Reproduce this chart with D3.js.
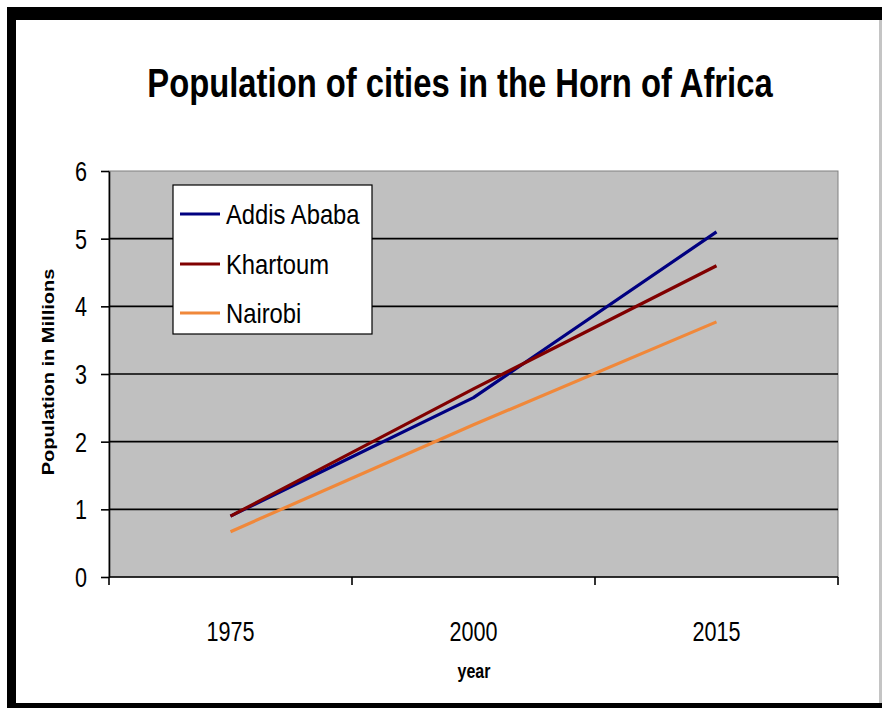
<!DOCTYPE html>
<html>
<head>
<meta charset="utf-8">
<script src="https://cdn.jsdelivr.net/npm/d3@7"></script>
<style>
  html, body { margin: 0; padding: 0; background: #fff; }
  svg { display: block; }
  text { font-family: "Liberation Sans", Arial, sans-serif; fill: #000; }
</style>
</head>
<body>
<svg id="chart" width="882" height="708"></svg>
<script>
// Population (millions) of three cities in the Horn of Africa
const years = ["1975", "2000", "2015"];
const cities = ["Addis Ababa", "Khartoum", "Nairobi"];
const addisAbaba = [0.9, 2.65, 5.1];
const khartoum = [0.9, 2.78, 4.6];
const nairobi = [0.67, 2.25, 3.77];
const yTicks = [0, 1, 2, 3, 4, 5, 6];
const colors = ["#000080", "#800000", "#f0883a"];

const seriesValues = [addisAbaba, khartoum, nairobi];
const series = cities.map((name, i) => ({
  name,
  color: colors[i],
  points: years.map((yr, j) => ({ year: yr, value: seriesValues[i][j] }))
}));

const svg = d3.select("#chart");
const W = 882, H = 708;
const plot = { left: 109, right: 838, top: 171, bottom: 577 };

// page background and frame
svg.append("rect").attr("width", W).attr("height", H).attr("fill", "#fff");
svg.append("rect").attr("x", 7).attr("y", 7).attr("width", W - 7).attr("height", 13).attr("fill", "#000");
svg.append("rect").attr("x", 7).attr("y", 7).attr("width", 9).attr("height", H - 7).attr("fill", "#000");
svg.append("rect").attr("x", 7).attr("y", 703).attr("width", W - 7).attr("height", 5).attr("fill", "#000");
svg.append("rect").attr("x", 879).attr("y", 20).attr("width", 3).attr("height", 683).attr("fill", "#c4c4c4");

// squeezed text helper (narrow face)
function label(g, x, y, str, opts) {
  const sx = opts.sx || 0.8;
  const t = g.append("text")
    .attr("transform", `translate(${x},${y}) scale(${sx},1)` + (opts.rotate ? ` rotate(${opts.rotate})` : ""))
    .attr("font-size", opts.size)
    .attr("font-weight", opts.bold ? "bold" : "normal")
    .attr("text-anchor", opts.anchor || "middle")
    .text(str);
  return t;
}

// title
label(svg, 460, 97, "Population of cities in the Horn of Africa", { size: 40, bold: true, sx: 0.82 });

// scales
const x = d3.scaleBand().domain(years).range([plot.left, plot.right]);
const y = d3.scaleLinear().domain([0, 6]).range([plot.bottom, plot.top]);

// plot area
svg.append("rect")
  .attr("x", plot.left).attr("y", plot.top)
  .attr("width", plot.right - plot.left).attr("height", plot.bottom - plot.top)
  .attr("fill", "#c0c0c0").attr("stroke", "#808080").attr("stroke-width", 1);

// horizontal gridlines
svg.append("g").selectAll("line")
  .data(yTicks.filter(d => d > 0 && d < 6))
  .join("line")
  .attr("x1", plot.left).attr("x2", plot.right)
  .attr("y1", d => y(d)).attr("y2", d => y(d))
  .attr("stroke", "#000").attr("stroke-width", 1.6);

// y axis
const yAxis = svg.append("g")
  .attr("transform", `translate(${plot.left},0)`)
  .call(d3.axisLeft(y).tickValues(yTicks).tickSize(8).tickSizeOuter(0).tickFormat(""));
yAxis.select(".domain").attr("stroke", "#000").attr("stroke-width", 1.6);
yAxis.selectAll(".tick line").attr("stroke", "#000").attr("stroke-width", 1.6);
yTicks.forEach(v => label(svg, 87, y(v) + 10, String(v), { size: 27, anchor: "end" }));

// x axis with ticks on band boundaries
const xAxisG = svg.append("g").attr("transform", `translate(0,${plot.bottom})`);
xAxisG.append("line")
  .attr("x1", plot.left).attr("x2", plot.right)
  .attr("stroke", "#000").attr("stroke-width", 1.6);
const bounds = years.map(d => x(d)).concat([x(years[years.length - 1]) + x.bandwidth()]);
xAxisG.selectAll("line.tk").data(bounds).join("line").attr("class", "tk")
  .attr("x1", d => d).attr("x2", d => d).attr("y1", 0).attr("y2", 8)
  .attr("stroke", "#000").attr("stroke-width", 1.6);
years.forEach(yr => label(svg, x(yr) + x.bandwidth() / 2, 641, yr, { size: 27 }));

// axis titles
label(svg, 474, 678, "year", { size: 20, bold: true });
svg.append("text")
  .attr("transform", "translate(54,372) scale(0.8,1) rotate(-90)")
  .attr("font-size", 20).attr("font-weight", "bold").attr("text-anchor", "middle")
  .text("Population in Millions");

// series lines
const line = d3.line()
  .x(d => x(d.year) + x.bandwidth() / 2)
  .y(d => y(d.value));
svg.append("g").selectAll("path")
  .data(series)
  .join("path")
  .attr("d", d => line(d.points))
  .attr("fill", "none")
  .attr("stroke", d => d.color)
  .attr("stroke-width", 3.2)
  .attr("stroke-linejoin", "round");

// legend
const lg = svg.append("g");
lg.append("rect")
  .attr("x", 173).attr("y", 185).attr("width", 199).attr("height", 149)
  .attr("fill", "#fff").attr("stroke", "#000").attr("stroke-width", 1.2);
const legendRows = [214, 264, 313];
series.forEach((s, i) => {
  lg.append("line")
    .attr("x1", 180).attr("x2", 220)
    .attr("y1", legendRows[i]).attr("y2", legendRows[i])
    .attr("stroke", s.color).attr("stroke-width", 3.2);
  label(lg, 226, legendRows[i] + 10, s.name, { size: 28, anchor: "start", sx: 0.85 });
});
</script>
</body>
</html>
